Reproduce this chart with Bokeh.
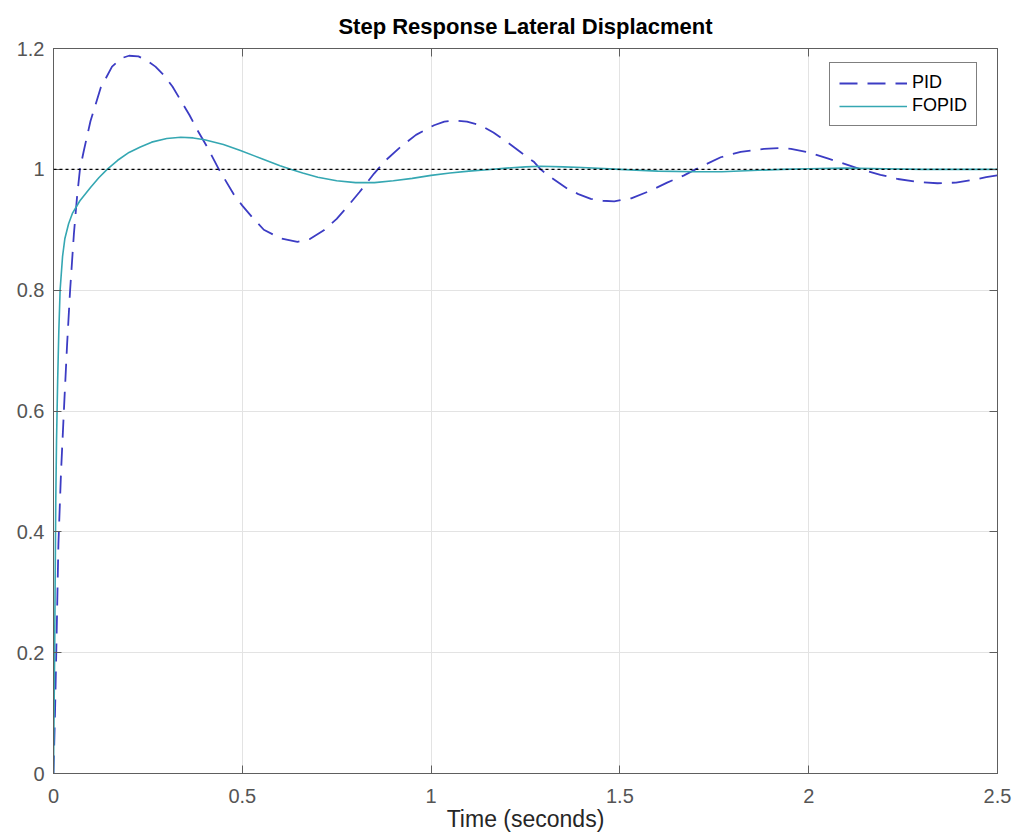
from bokeh.plotting import figure
from bokeh.models import Range1d, LinearAxis, FixedTicker, Legend, LegendItem, Span
from bokeh.embed import file_html
from bokeh.resources import INLINE

# ---- data ----
pid_t = [0, 0.004, 0.008, 0.013, 0.02, 0.029, 0.036, 0.044, 0.054, 0.062, 0.07, 0.08, 0.098,
         0.125, 0.155, 0.18, 0.2, 0.225, 0.248, 0.27, 0.292, 0.315, 0.337, 0.36, 0.381,
         0.407, 0.438, 0.478, 0.5, 0.53, 0.557, 0.6, 0.646, 0.68, 0.716, 0.75, 0.778,
         0.81, 0.849, 0.88, 0.919, 0.96, 1.008, 1.035, 1.061, 1.095, 1.131, 1.165, 1.202,
         1.24, 1.273, 1.29, 1.31, 1.361, 1.39, 1.423, 1.455, 1.485, 1.53, 1.582, 1.625,
         1.67, 1.70, 1.767, 1.82, 1.882, 1.92, 1.953, 2.0, 2.05, 2.095, 2.138, 2.19,
         2.236, 2.29, 2.341, 2.39, 2.439, 2.47, 2.5]
pid_y = [0, 0.1, 0.22, 0.38, 0.5, 0.62, 0.71, 0.8, 0.893, 0.952, 1.0, 1.03, 1.08,
         1.135, 1.17, 1.184, 1.188, 1.187, 1.180, 1.170, 1.156, 1.137, 1.114, 1.09, 1.065,
         1.037, 1.0, 0.958, 0.940, 0.918, 0.9, 0.886, 0.880, 0.885, 0.899, 0.918, 0.938,
         0.962, 0.993, 1.015, 1.037, 1.057, 1.073, 1.079, 1.081, 1.079, 1.073, 1.061, 1.045,
         1.027, 1.012, 1.0, 0.99, 0.968, 0.959, 0.951, 0.948, 0.947, 0.952, 0.965, 0.978,
         0.99, 1.0, 1.02, 1.029, 1.034, 1.035, 1.034, 1.028, 1.018, 1.009, 1.0, 0.991,
         0.984, 0.979, 0.977, 0.978, 0.983, 0.987, 0.99]

fopid_t = [0, 0.003, 0.006, 0.008, 0.011, 0.014, 0.0175, 0.024, 0.03, 0.04, 0.05, 0.07,
           0.098, 0.12, 0.142, 0.17, 0.2, 0.23, 0.26, 0.3, 0.337, 0.37, 0.4, 0.45, 0.495,
           0.55, 0.6, 0.628, 0.66, 0.7, 0.75, 0.8, 0.85, 0.9, 0.95, 1.0, 1.05, 1.1, 1.14,
           1.2, 1.25, 1.29, 1.35, 1.4, 1.5, 1.6, 1.7, 1.77, 1.85, 1.93, 2.0, 2.1, 2.2,
           2.3, 2.4, 2.5]
fopid_y = [0, 0.2, 0.45, 0.55, 0.65, 0.73, 0.8, 0.856, 0.885, 0.91, 0.927, 0.948,
           0.97, 0.986, 1.0, 1.015, 1.028, 1.037, 1.045, 1.051, 1.053, 1.052, 1.049, 1.041, 1.031,
           1.018, 1.006, 1.0, 0.994, 0.987, 0.981, 0.978, 0.978, 0.981, 0.985, 0.99, 0.994, 0.997, 0.999,
           1.002, 1.004, 1.005, 1.004, 1.003, 1.0, 0.997, 0.996, 0.996, 0.998, 1.0, 1.001, 1.002, 1.001,
           1.0, 1.0, 1.0]

reference_level = 1.0

x_ticks = [0, 0.5, 1, 1.5, 2, 2.5]
x_tick_labels = ["0", "0.5", "1", "1.5", "2", "2.5"]
y_ticks = [0, 0.2, 0.4, 0.6, 0.8, 1.0, 1.2]
y_tick_labels = ["0", "0.2", "0.4", "0.6", "0.8", "1", "1.2"]

title_text = "Step Response Lateral Displacment"
x_label = "Time (seconds)"
series_names = ["PID", "FOPID"]

FONT = "Liberation Sans"
AX_COL = "#5e5e5e"
LBL_COL = "#555555"

p = figure(width=1020, height=840, output_backend="svg", toolbar_location=None,
           x_range=Range1d(0, 2.5), y_range=Range1d(0, 1.2),
           min_border_left=53, min_border_right=23, min_border_top=48, min_border_bottom=67,
           x_axis_location=None, y_axis_location=None)
p.background_fill_color = "white"
p.border_fill_color = "white"
p.outline_line_color = AX_COL

p.title.text = title_text
p.title.align = "center"
p.title.text_font = FONT
p.title.text_font_size = "22px"
p.title.text_font_style = "bold"
p.title.text_color = "black"
p.title.standoff = 20

def make_axis(ticks, labels, show_labels, standoff=8, axis_label=None):
    ax = LinearAxis(ticker=FixedTicker(ticks=ticks, minor_ticks=[]))
    if show_labels:
        ax.major_label_overrides = {t: l for t, l in zip(ticks, labels)}
        ax.major_label_text_font_size = "20px"
    else:
        ax.major_label_overrides = {t: "" for t in ticks}
        ax.major_label_text_font_size = "1px"
    ax.axis_line_color = AX_COL
    ax.major_tick_line_color = AX_COL
    ax.major_tick_in = 8
    ax.major_tick_out = 0
    ax.minor_tick_line_color = None
    ax.major_label_text_font = FONT
    ax.major_label_text_color = LBL_COL
    ax.major_label_standoff = standoff if show_labels else 0
    if axis_label:
        ax.axis_label = axis_label
        ax.axis_label_text_font = FONT
        ax.axis_label_text_font_size = "23px"
        ax.axis_label_text_font_style = "normal"
        ax.axis_label_text_color = "#262626"
        ax.axis_label_standoff = 0
    return ax

p.add_layout(make_axis(x_ticks, x_tick_labels, True, 15, x_label), "below")
p.add_layout(make_axis(y_ticks, y_tick_labels, True, 9), "left")
p.add_layout(make_axis(x_ticks, x_tick_labels, False), "above")
p.add_layout(make_axis(y_ticks, y_tick_labels, False), "right")

p.xgrid.ticker = FixedTicker(ticks=x_ticks)
p.ygrid.ticker = FixedTicker(ticks=y_ticks)
for g in (p.xgrid, p.ygrid):
    g.grid_line_color = "#e3e3e3"
    g.grid_line_width = 1

r_pid = p.line(pid_t, pid_y, line_color="#3c3cc4", line_width=1.8, line_dash="18 10")
r_fopid = p.line(fopid_t, fopid_y, line_color="#35a7b2", line_width=1.6)

p.add_layout(Span(location=reference_level, dimension="width", line_color="black",
                  line_width=1.2, line_dash="3 3"))

legend = Legend(items=[LegendItem(label=series_names[0], renderers=[r_pid]),
                       LegendItem(label=series_names[1], renderers=[r_fopid])],
                location=(776, 647))
legend.label_text_font = FONT
legend.label_text_font_size = "18px"
legend.label_text_color = "black"
legend.border_line_color = "black"
legend.border_line_width = 1
legend.background_fill_color = "white"
legend.background_fill_alpha = 1
legend.padding = 9
legend.spacing = 2
legend.label_standoff = 5
legend.glyph_width = 68
legend.glyph_height = 20
legend.label_height = 20
legend.margin = 0
p.add_layout(legend, "center")

open("out.html", "w").write(file_html(p, INLINE))
